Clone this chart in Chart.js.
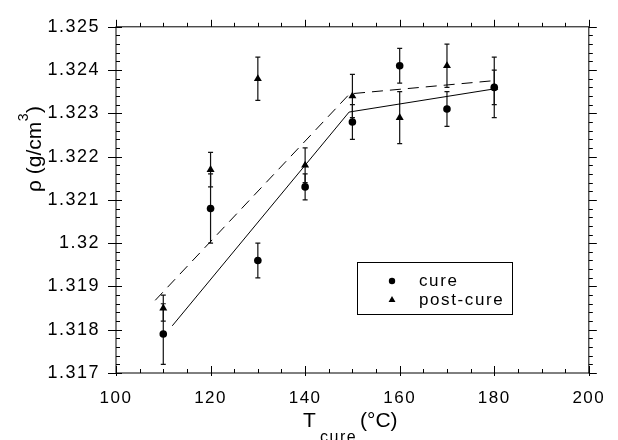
<!DOCTYPE html>
<html>
<head>
<meta charset="utf-8">
<script src="https://cdn.jsdelivr.net/npm/chart.js@4.4.0/dist/chart.umd.min.js"></script>
<style>
  html, body { margin: 0; padding: 0; background: #fff; }
  #wrap { width: 618px; height: 440px; }
</style>
</head>
<body>
<div id="wrap"><canvas id="grafico"></canvas></div>
<script>
// Dados (densidade x temperatura de cura)
const temps     = [110, 120, 130, 140, 150, 160, 170, 180];
const rhoCure   = [1.3179, 1.3208, 1.3196, 1.3213, 1.3228, 1.3241, 1.3231, 1.3236];
const errCure   = [0.0007, 0.0008, 0.0004, 0.0003, 0.0004, 0.0004, 0.0004, 0.0007];
const rhoPost   = [1.3185, 1.3217, 1.3238, 1.3218, 1.3234, 1.3229, 1.3241, 1.3236];
const errPost   = [0.0003, 0.0004, 0.0005, 0.0004, 0.0005, 0.0006, 0.0005, 0.0004];

// Retas de ajuste (dois trechos cada)
const fitCureX  = [111.9, 149.3, 179.7];
const fitCureY  = [1.31809, 1.32303, 1.32356];
const fitPostX  = [108.3, 149.4, 179.4];
const fitPostY  = [1.31868, 1.32345, 1.32375];

const X_MIN = 100, X_MAX = 200, X_STEP = 20, X_MINOR = 5;
const Y_MIN = 1.317, Y_MAX = 1.325, Y_STEP = 0.001, Y_MINOR = 0.0002;

const FONTE = "'Liberation Sans', Arial, Helvetica, sans-serif";
Chart.defaults.font.family = FONTE;
Chart.defaults.color = '#000';

const pontos = (xs, ys) => xs.map((x, i) => ({ x, y: ys[i] }));

// Espacamento de letras do grafico original (ticks e legenda)
const espacamento = {
  id: 'espacamento',
  beforeDraw(chart) { chart.ctx.letterSpacing = '1.5px'; }
};

// Barras de erro desenhadas por baixo dos marcadores
const barrasErro = {
  id: 'barrasErro',
  beforeDatasetsDraw(chart) {
    const { ctx, scales: { x, y } } = chart;
    ctx.save();
    ctx.strokeStyle = '#111';
    ctx.lineWidth = 1.2;
    [[rhoCure, errCure], [rhoPost, errPost]].forEach(([vals, errs]) => {
      temps.forEach((t, i) => {
        const px = x.getPixelForValue(t);
        const y1 = y.getPixelForValue(vals[i] + errs[i]);
        const y2 = y.getPixelForValue(vals[i] - errs[i]);
        ctx.beginPath();
        ctx.moveTo(px, y1); ctx.lineTo(px, y2);
        ctx.moveTo(px - 2.5, y1); ctx.lineTo(px + 2.5, y1);
        ctx.moveTo(px - 2.5, y2); ctx.lineTo(px + 2.5, y2);
        ctx.stroke();
      });
    });
    ctx.restore();
  }
};

// Moldura + marcas maiores/menores nos quatro lados
const moldura = {
  id: 'moldura',
  afterDraw(chart) {
    const { ctx, chartArea: a, scales: { x, y } } = chart;
    ctx.save();
    ctx.strokeStyle = '#000';
    ctx.lineWidth = 1;
    ctx.strokeRect(a.left, a.top, a.right - a.left, a.bottom - a.top);
    ctx.beginPath();
    const nx = Math.round((X_MAX - X_MIN) / X_MINOR);
    for (let i = 0; i <= nx; i++) {
      const v = X_MIN + i * X_MINOR;
      const px = Math.round(x.getPixelForValue(v)) + 0.5;
      const maior = Math.abs(v % X_STEP) < 1e-9;
      // baixo: para dentro (maior cruza o eixo)
      ctx.moveTo(px, a.bottom + (maior ? 3 : 0));
      ctx.lineTo(px, a.bottom - (maior ? 7 : 4));
      // topo: para fora
      ctx.moveTo(px, a.top);
      ctx.lineTo(px, a.top - (maior ? 7 : 4));
    }
    const ny = Math.round((Y_MAX - Y_MIN) / Y_MINOR);
    for (let i = 0; i <= ny; i++) {
      const v = Y_MIN + i * Y_MINOR;
      const py = Math.round(y.getPixelForValue(v)) + 0.5;
      const maior = i % Math.round(Y_STEP / Y_MINOR) === 0;
      // esquerda: maior cruza, menor para dentro
      ctx.moveTo(a.left - (maior ? 8 : 0), py);
      ctx.lineTo(a.left + (maior ? 6 : 4), py);
      // direita: para fora
      ctx.moveTo(a.right, py);
      ctx.lineTo(a.right + (maior ? 8 : 4), py);
    }
    ctx.stroke();
    ctx.restore();
  }
};

// Titulos dos eixos com subscrito/sobrescrito
const titulos = {
  id: 'titulos',
  afterDraw(chart) {
    const ctx = chart.ctx;
    ctx.save();
    ctx.letterSpacing = '0px';
    ctx.fillStyle = '#000';
    ctx.textAlign = 'left';
    ctx.textBaseline = 'alphabetic';
    // eixo x: T_cure (°C)
    ctx.font = `21px ${FONTE}`;
    ctx.fillText('T', 303, 427);
    ctx.letterSpacing = '1.5px';
    ctx.font = `16px ${FONTE}`;
    ctx.fillText('cure', 320, 442);
    ctx.letterSpacing = '0px';
    ctx.font = `21px ${FONTE}`;
    ctx.fillText('(°C)', 360, 427);
    // eixo y: ρ (g/cm³)
    ctx.translate(41, 192);
    ctx.rotate(-Math.PI / 2);
    ctx.font = `21px ${FONTE}`;
    const base = 'ρ (g/cm';
    ctx.fillText(base, 0, 0);
    let w = ctx.measureText(base).width;
    ctx.font = `14px ${FONTE}`;
    ctx.fillText('3', w + 0.5, -13);
    w += ctx.measureText('3').width + 1;
    ctx.font = `21px ${FONTE}`;
    ctx.fillText(')', w, 0);
    ctx.restore();
  }
};

// Legenda em caixa dentro da area do grafico
const legendaCaixa = {
  id: 'legendaCaixa',
  afterDraw(chart) {
    const ctx = chart.ctx;
    const ds = chart.data.datasets;
    ctx.save();
    ctx.strokeStyle = '#000';
    ctx.lineWidth = 1;
    ctx.strokeRect(357.5, 262.5, 155, 52);
    ctx.letterSpacing = '1.6px';
    ctx.font = `17px ${FONTE}`;
    ctx.textBaseline = 'middle';
    ctx.fillStyle = '#000';
    [[ds[0], 281, 3.2], [ds[1], 300, 4]].forEach(([d, yy, r]) => {
      Chart.helpers.drawPoint(ctx, { pointStyle: d.pointStyle, radius: r, borderWidth: 0 }, 392, yy);
      ctx.fillText(d.label, 419, yy);
    });
    ctx.restore();
  }
};

new Chart(document.getElementById('grafico'), {
  type: 'scatter',
  data: {
    datasets: [
      { label: 'cure', data: pontos(temps, rhoCure), pointStyle: 'circle',
        pointRadius: 3.8, backgroundColor: '#000', borderColor: '#000', borderWidth: 0 },
      { label: 'post-cure', data: pontos(temps, rhoPost), pointStyle: 'triangle',
        pointRadius: 4.6, backgroundColor: '#000', borderColor: '#000', borderWidth: 0 },
      { label: 'ajuste cure', data: pontos(fitCureX, fitCureY), showLine: true,
        pointRadius: 0, borderColor: '#000', borderWidth: 1, fill: false },
      { label: 'ajuste post-cure', data: pontos(fitPostX, fitPostY), showLine: true,
        pointRadius: 0, borderColor: '#000', borderWidth: 1, borderDash: [11, 7], fill: false }
    ]
  },
  options: {
    responsive: true, maintainAspectRatio: false, animation: false,
    layout: { padding: { top: 21, right: 22, left: 0, bottom: 0 } },
    plugins: { legend: { display: false }, tooltip: { enabled: false } },
    scales: {
      x: {
        type: 'linear', min: X_MIN, max: X_MAX,
        grid: { display: false, drawTicks: false }, border: { display: false },
        ticks: { stepSize: X_STEP, padding: 15, font: { size: 17 }, color: '#000', maxRotation: 0 },
        afterFit: s => { s.height = 67; }
      },
      y: {
        type: 'linear', min: Y_MIN, max: Y_MAX,
        grid: { display: false, drawTicks: false }, border: { display: false },
        ticks: { stepSize: Y_STEP, padding: 16, font: { size: 18 }, color: '#000',
                 callback: v => String(+v.toFixed(3)) },
        afterFit: s => { s.width = 116; }
      }
    }
  },
  plugins: [espacamento, barrasErro, moldura, titulos, legendaCaixa]
});
</script>
</body>
</html>
